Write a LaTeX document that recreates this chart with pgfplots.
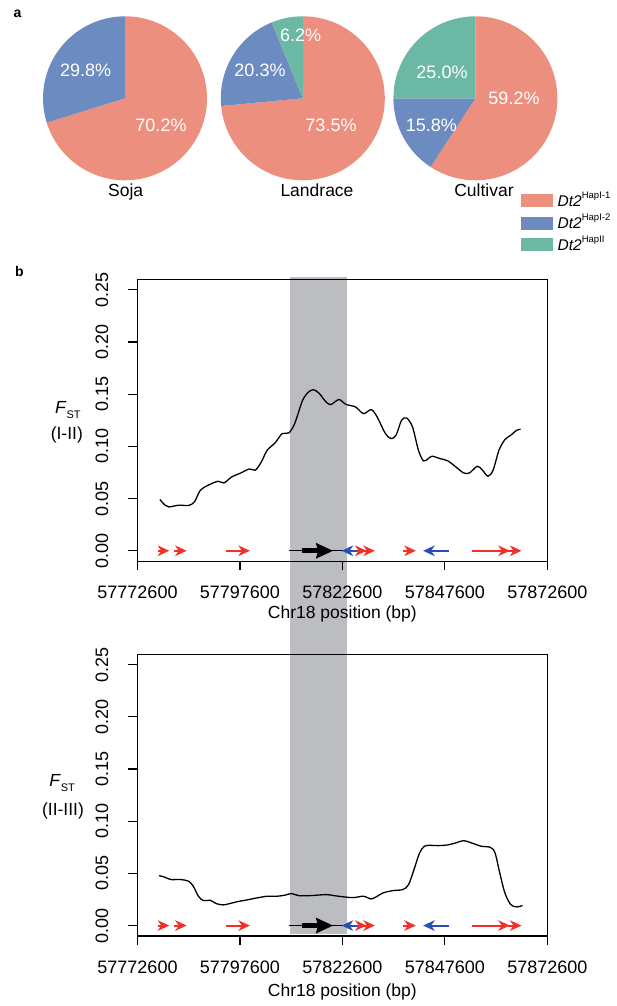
\documentclass[border=0pt]{standalone}
\usepackage{pgfplots}
\usepackage{pgfplotstable}
\pgfplotsset{compat=1.18}
\usepackage{fontspec}
\setmainfont{Liberation Sans}
\usetikzlibrary{arrows.meta,backgrounds}
\definecolor{pSal}{RGB}{237,143,126}
\definecolor{pBlu}{RGB}{108,139,192}
\definecolor{pGrn}{RGB}{107,184,165}
\definecolor{gRed}{RGB}{238,50,42}
\definecolor{gBlu}{RGB}{40,80,178}
\definecolor{band}{RGB}{188,189,193}

% x = Chr18 position - 57772600 (bp)
\pgfplotstableread{
x y
5465 0.0491
6711 0.0437
7670 0.0420
10067 0.0437
12464 0.0434
13902 0.0469
15340 0.0580
17258 0.0628
19655 0.0666
21093 0.0650
23010 0.0708
24928 0.0740
27325 0.0784
28763 0.0772
30201 0.0850
31639 0.0963
33557 0.1033
35283 0.1122
36913 0.1129
38351 0.1218
40268 0.1440
41706 0.1520
42953 0.1543
44295 0.1510
46021 0.1425
47171 0.1400
48418 0.1435
49377 0.1448
50815 0.1403
53212 0.1378
55129 0.1314
57047 0.1352
58485 0.1282
60403 0.1129
61841 0.1075
63087 0.1107
64429 0.1250
65676 0.1272
67114 0.1186
68552 0.0963
69798 0.0861
70948 0.0883
71907 0.0906
73825 0.0883
75743 0.0861
77660 0.0804
79578 0.0746
81016 0.0746
82934 0.0810
84180 0.0772
85522 0.0714
86769 0.0772
88207 0.0963
89645 0.1065
91083 0.1107
92521 0.1154
93480 0.1164
}\topfst

\pgfplotstableread{
x y
5273 0.0479
6711 0.0463
8150 0.0441
10546 0.0441
12464 0.0425
13615 0.0377
14861 0.0281
16107 0.0239
17737 0.0243
19175 0.0211
20901 0.0198
22531 0.0211
24449 0.0230
26366 0.0243
28763 0.0262
31639 0.0281
34036 0.0281
35954 0.0291
37584 0.0307
39310 0.0287
42186 0.0287
46021 0.0297
47939 0.0287
50335 0.0275
52732 0.0268
55129 0.0281
57047 0.0255
58485 0.0281
59923 0.0313
62320 0.0335
64717 0.0345
66155 0.0393
67593 0.0552
68840 0.0696
69990 0.0760
71428 0.0769
73346 0.0766
75743 0.0773
77660 0.0792
79578 0.0814
81495 0.0792
83892 0.0760
86098 0.0750
87248 0.0696
88399 0.0504
89645 0.0313
91083 0.0201
92521 0.0179
93959 0.0192
}\botfst

\pgfplotsset{
  fstaxis/.style={
    scale only axis, width=409.8pt, height=281.8pt,
    xmin=0, xmax=100000, ymin=-0.01, ymax=0.26,
    xtick={0,25000,50000,75000,100000},
    xticklabels={57772600,57797600,57822600,57847600,57872600},
    scaled x ticks=false,
    ytick={0,0.05,0.1,0.15,0.2,0.25},
    /pgf/number format/assume math mode=true,
    yticklabel style={rotate=90, anchor=south, inner sep=0pt,
      /pgf/number format/fixed, /pgf/number format/fixed zerofill,
      /pgf/number format/precision=2},
    xticklabel style={anchor=north, inner sep=0pt},
    xticklabel shift=16pt, yticklabel shift=20pt,
    tick label style={font=\fontsize{18}{21}\selectfont},
    label style={font=\fontsize{17.5}{21}\selectfont},
    tick align=outside, major tick length=9pt, tick pos=left,
    minor tick num=0,
    tick style={line width=1.1pt, black},
    axis line style={line width=1.1pt},
    clip=false,
  },
  garr/.style={line width=2pt, -{Stealth[length=11.5pt,width=10.5pt,inset=3.5pt]}},
}

\newcommand\genes{%
  \addplot[black, line width=1.3pt] coordinates {(37024,0) (50195,0)};
  \addplot[black, line width=5pt, -{Stealth[length=17pt,width=15pt,inset=2pt]}] coordinates {(40049,0) (47756,0)};
  \addplot[gBlu, garr] coordinates {(54268,0) (49805,0)};
  \addplot[gBlu, garr] coordinates {(76049,0) (69707,0)};
  \addplot[gRed, garr] coordinates {(4927,0) (7756,0)};
  \addplot[gRed, garr] coordinates {(8902,0) (12000,0)};
  \addplot[gRed, garr] coordinates {(21512,0) (27439,0)};
  \addplot[gRed, garr] coordinates {(53463,0) (55902,0)};
  \addplot[gRed, garr] coordinates {(55073,0) (57927,0)};
  \addplot[gRed, garr] coordinates {(64829,0) (67927,0)};
  \addplot[gRed, garr] coordinates {(81512,0) (90854,0)};
  \addplot[gRed, garr] coordinates {(90439,0) (93707,0)};
}

\begin{document}
\begin{tikzpicture}
\path[use as bounding box] (0,0) rectangle (616pt,-1006pt);

% ---------- panel a: pies ----------
\begin{axis}[at={(0pt,-250pt)}, anchor=south west, scale only axis,
  width=616pt, height=250pt, xmin=0, xmax=616, ymin=-250, ymax=0,
  hide axis, clip=false]
  % Soja
  \fill[pSal] (axis cs:125,-98.3) -- ++(90:82pt) arc[start angle=90, delta angle={-3.6*70.2}, radius=82pt] -- cycle;
  \fill[pBlu] (axis cs:125,-98.3) -- ++({90-3.6*70.2}:82pt) arc[start angle={90-3.6*70.2}, delta angle={-3.6*29.8}, radius=82pt] -- cycle;
  % Landrace
  \fill[pSal] (axis cs:302.8,-98.3) -- ++(90:82pt) arc[start angle=90, delta angle={-3.6*73.5}, radius=82pt] -- cycle;
  \fill[pBlu] (axis cs:302.8,-98.3) -- ++({90-3.6*73.5}:82pt) arc[start angle={90-3.6*73.5}, delta angle={-3.6*20.3}, radius=82pt] -- cycle;
  \fill[pGrn] (axis cs:302.8,-98.3) -- ++({90-3.6*93.8}:82pt) arc[start angle={90-3.6*93.8}, delta angle={-3.6*6.2}, radius=82pt] -- cycle;
  % Cultivar
  \fill[pSal] (axis cs:475.4,-98.3) -- ++(90:82pt) arc[start angle=90, delta angle={-3.6*59.2}, radius=82pt] -- cycle;
  \fill[pBlu] (axis cs:475.4,-98.3) -- ++({90-3.6*59.2}:82pt) arc[start angle={90-3.6*59.2}, delta angle={-3.6*15.8}, radius=82pt] -- cycle;
  \fill[pGrn] (axis cs:475.4,-98.3) -- ++({90-3.6*75.0}:82pt) arc[start angle={90-3.6*75.0}, delta angle={-3.6*25.0}, radius=82pt] -- cycle;
  % percent labels
  \begin{scope}[every node/.style={text=white, anchor=base, inner sep=0pt, font=\fontsize{18}{21}\selectfont}]
    \node at (axis cs:85.7,-76.4) {29.8\%};
    \node at (axis cs:161,-131.4) {70.2\%};
    \node at (axis cs:300.6,-41.4) {6.2\%};
    \node at (axis cs:260,-76.4) {20.3\%};
    \node at (axis cs:331,-131.4) {73.5\%};
    \node at (axis cs:442,-78.4) {25.0\%};
    \node at (axis cs:514,-104.4) {59.2\%};
    \node at (axis cs:431.4,-131.4) {15.8\%};
  \end{scope}
  \begin{scope}[every node/.style={anchor=base, inner sep=0pt, font=\fontsize{17.5}{21}\selectfont}]
    \node at (axis cs:125.7,-196.3) {Soja};
    \node at (axis cs:317,-196.3) {Landrace};
    \node at (axis cs:484,-196.3) {Cultivar};
  \end{scope}
  % legend
  \fill[pSal] (axis cs:520.7,-194) rectangle (axis cs:553.3,-207.3);
  \fill[pBlu] (axis cs:520.7,-216.5) rectangle (axis cs:553.3,-229.8);
  \fill[pGrn] (axis cs:520.7,-238) rectangle (axis cs:553.3,-251.3);
  \begin{scope}[every node/.style={anchor=base west, inner sep=0pt, font=\fontsize{15.5}{18}\selectfont}]
    \node at (axis cs:557.5,-206.2) {\textit{Dt2}\raisebox{0.5em}{\fontsize{9.5}{10}\selectfont HapI-1}};
    \node at (axis cs:557.5,-228.7) {\textit{Dt2}\raisebox{0.5em}{\fontsize{9.5}{10}\selectfont HapI-2}};
    \node at (axis cs:557.5,-250.2) {\textit{Dt2}\raisebox{0.5em}{\fontsize{9.5}{10}\selectfont HapII}};
  \end{scope}
  \node[anchor=base west, inner sep=0pt, font=\bfseries\fontsize{14}{16}\selectfont] at (axis cs:13.5,-17.3) {a};
  \node[anchor=base west, inner sep=0pt, font=\bfseries\fontsize{14}{16}\selectfont] at (axis cs:15,-276.7) {b};
\end{axis}

% ---------- panel b top ----------
\begin{axis}[fstaxis, at={(137.5pt,-561.2pt)}, anchor=south west,
  xlabel={Chr18 position (bp)},
  xlabel style={at={(axis description cs:0.5,0)}, anchor=base, yshift=-57pt}]
  \coordinate (bandTL) at (axis cs:37195,0.262);
  \genes
  \addplot[black, line width=1.3pt, smooth, tension=0.5] table[x=x,y=y] {\topfst};
  \node[font=\fontsize{17.5}{21}\selectfont, inner sep=0pt] at (axis description cs:-0.170,0.536) {\textit{F}\raisebox{-0.3em}{\fontsize{11}{12}\selectfont ST}};
  \node[font=\fontsize{17.5}{21}\selectfont, inner sep=0pt] at (axis description cs:-0.1725,0.4477) {(I-II)};
\end{axis}

% ---------- panel b bottom ----------
\begin{axis}[fstaxis, at={(137.5pt,-936pt)}, anchor=south west,
  xlabel={Chr18 position (bp)},
  xlabel style={at={(axis description cs:0.5,0)}, anchor=base, yshift=-60pt}]
  \coordinate (bandBR) at (axis cs:51024,-0.0078);
  \genes
  \addplot[black, line width=1.3pt, smooth, tension=0.5] table[x=x,y=y] {\botfst};
  \node[font=\fontsize{17.5}{21}\selectfont, inner sep=0pt] at (axis description cs:-0.184,0.543) {\textit{F}\raisebox{-0.3em}{\fontsize{11}{12}\selectfont ST}};
  \node[font=\fontsize{17.5}{21}\selectfont, inner sep=0pt] at (axis description cs:-0.1818,0.4448) {(II-III)};
\end{axis}

\begin{scope}[on background layer]
  \fill[band] (bandTL) rectangle (bandBR);
\end{scope}
\end{tikzpicture}
\end{document}
